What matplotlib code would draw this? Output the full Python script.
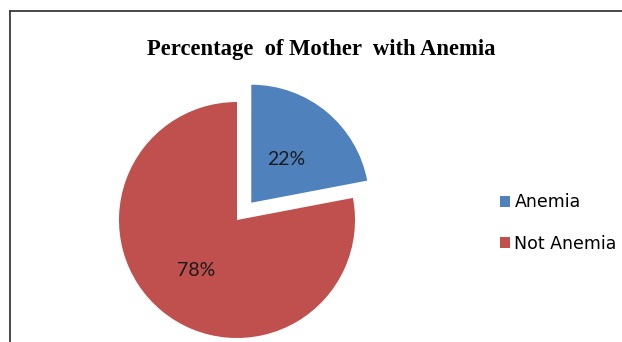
import math
import matplotlib
matplotlib.use("Agg")
import matplotlib.pyplot as plt
from matplotlib.lines import Line2D
from matplotlib.patches import Patch

categories = ["Anemia", "Not Anemia"]
percentages = [22, 78]
colors = ["#4F81BD", "#C0504D"]
title = "Percentage  of Mother  with Anemia"

W, H = 622, 342
fig = plt.figure(figsize=(W / 100, H / 100), dpi=100)

# chart frame: left and top edges only
frame_kw = dict(color="#3a3a3a", lw=1.3, transform=fig.transFigure)
fig.add_artist(Line2D([9.5 / W, 9.5 / W], [0, 1 - 11 / H], **frame_kw))
fig.add_artist(Line2D([9.5 / W, 1], [1 - 11 / H, 1 - 11 / H], **frame_kw))

# pie axes: radius 1 maps to 118 px, centred at (237, 220) px
r_px = 118
cx, cy = 237, 220
half = 1.25 * r_px
ax = fig.add_axes([(cx - half) / W, (H - cy - half) / H, 2 * half / W, 2 * half / H])
wedges, texts, autotexts = ax.pie(
    percentages,
    colors=colors,
    explode=[0.19, 0],
    startangle=90,
    counterclock=False,
    autopct="%d%%",
    pctdistance=0.5,
    textprops=dict(fontsize=14, family="Lato", color="#1a1a1a"),
)
ax.set_xlim(-1.25, 1.25)
ax.set_ylim(-1.25, 1.25)
ax.set_aspect("equal")

# fine placement of the percentage labels along each wedge's mid-angle
label_dist = [0.47, 0.55]
for w, t, d in zip(wedges, autotexts, label_dist):
    th = math.radians((w.theta1 + w.theta2) / 2)
    x0, y0 = w.center
    t.set_position((x0 + d * math.cos(th), y0 + d * math.sin(th)))

fig.text(321 / W, 1 - 50 / H, title, ha="center", va="center",
         family="Liberation Serif", fontweight="bold", fontsize=16.3)

handles = [Patch(facecolor=c, edgecolor="none") for c in colors]
fig.legend(handles, categories, loc="center left",
           bbox_to_anchor=(484 / W, 1 - 223 / H), frameon=False,
           prop=dict(family="DejaVu Sans", size=12.5),
           handlelength=0.6, handleheight=0.6, handletextpad=0.25,
           labelspacing=1.35)

fig.savefig("out.png", dpi=100)
